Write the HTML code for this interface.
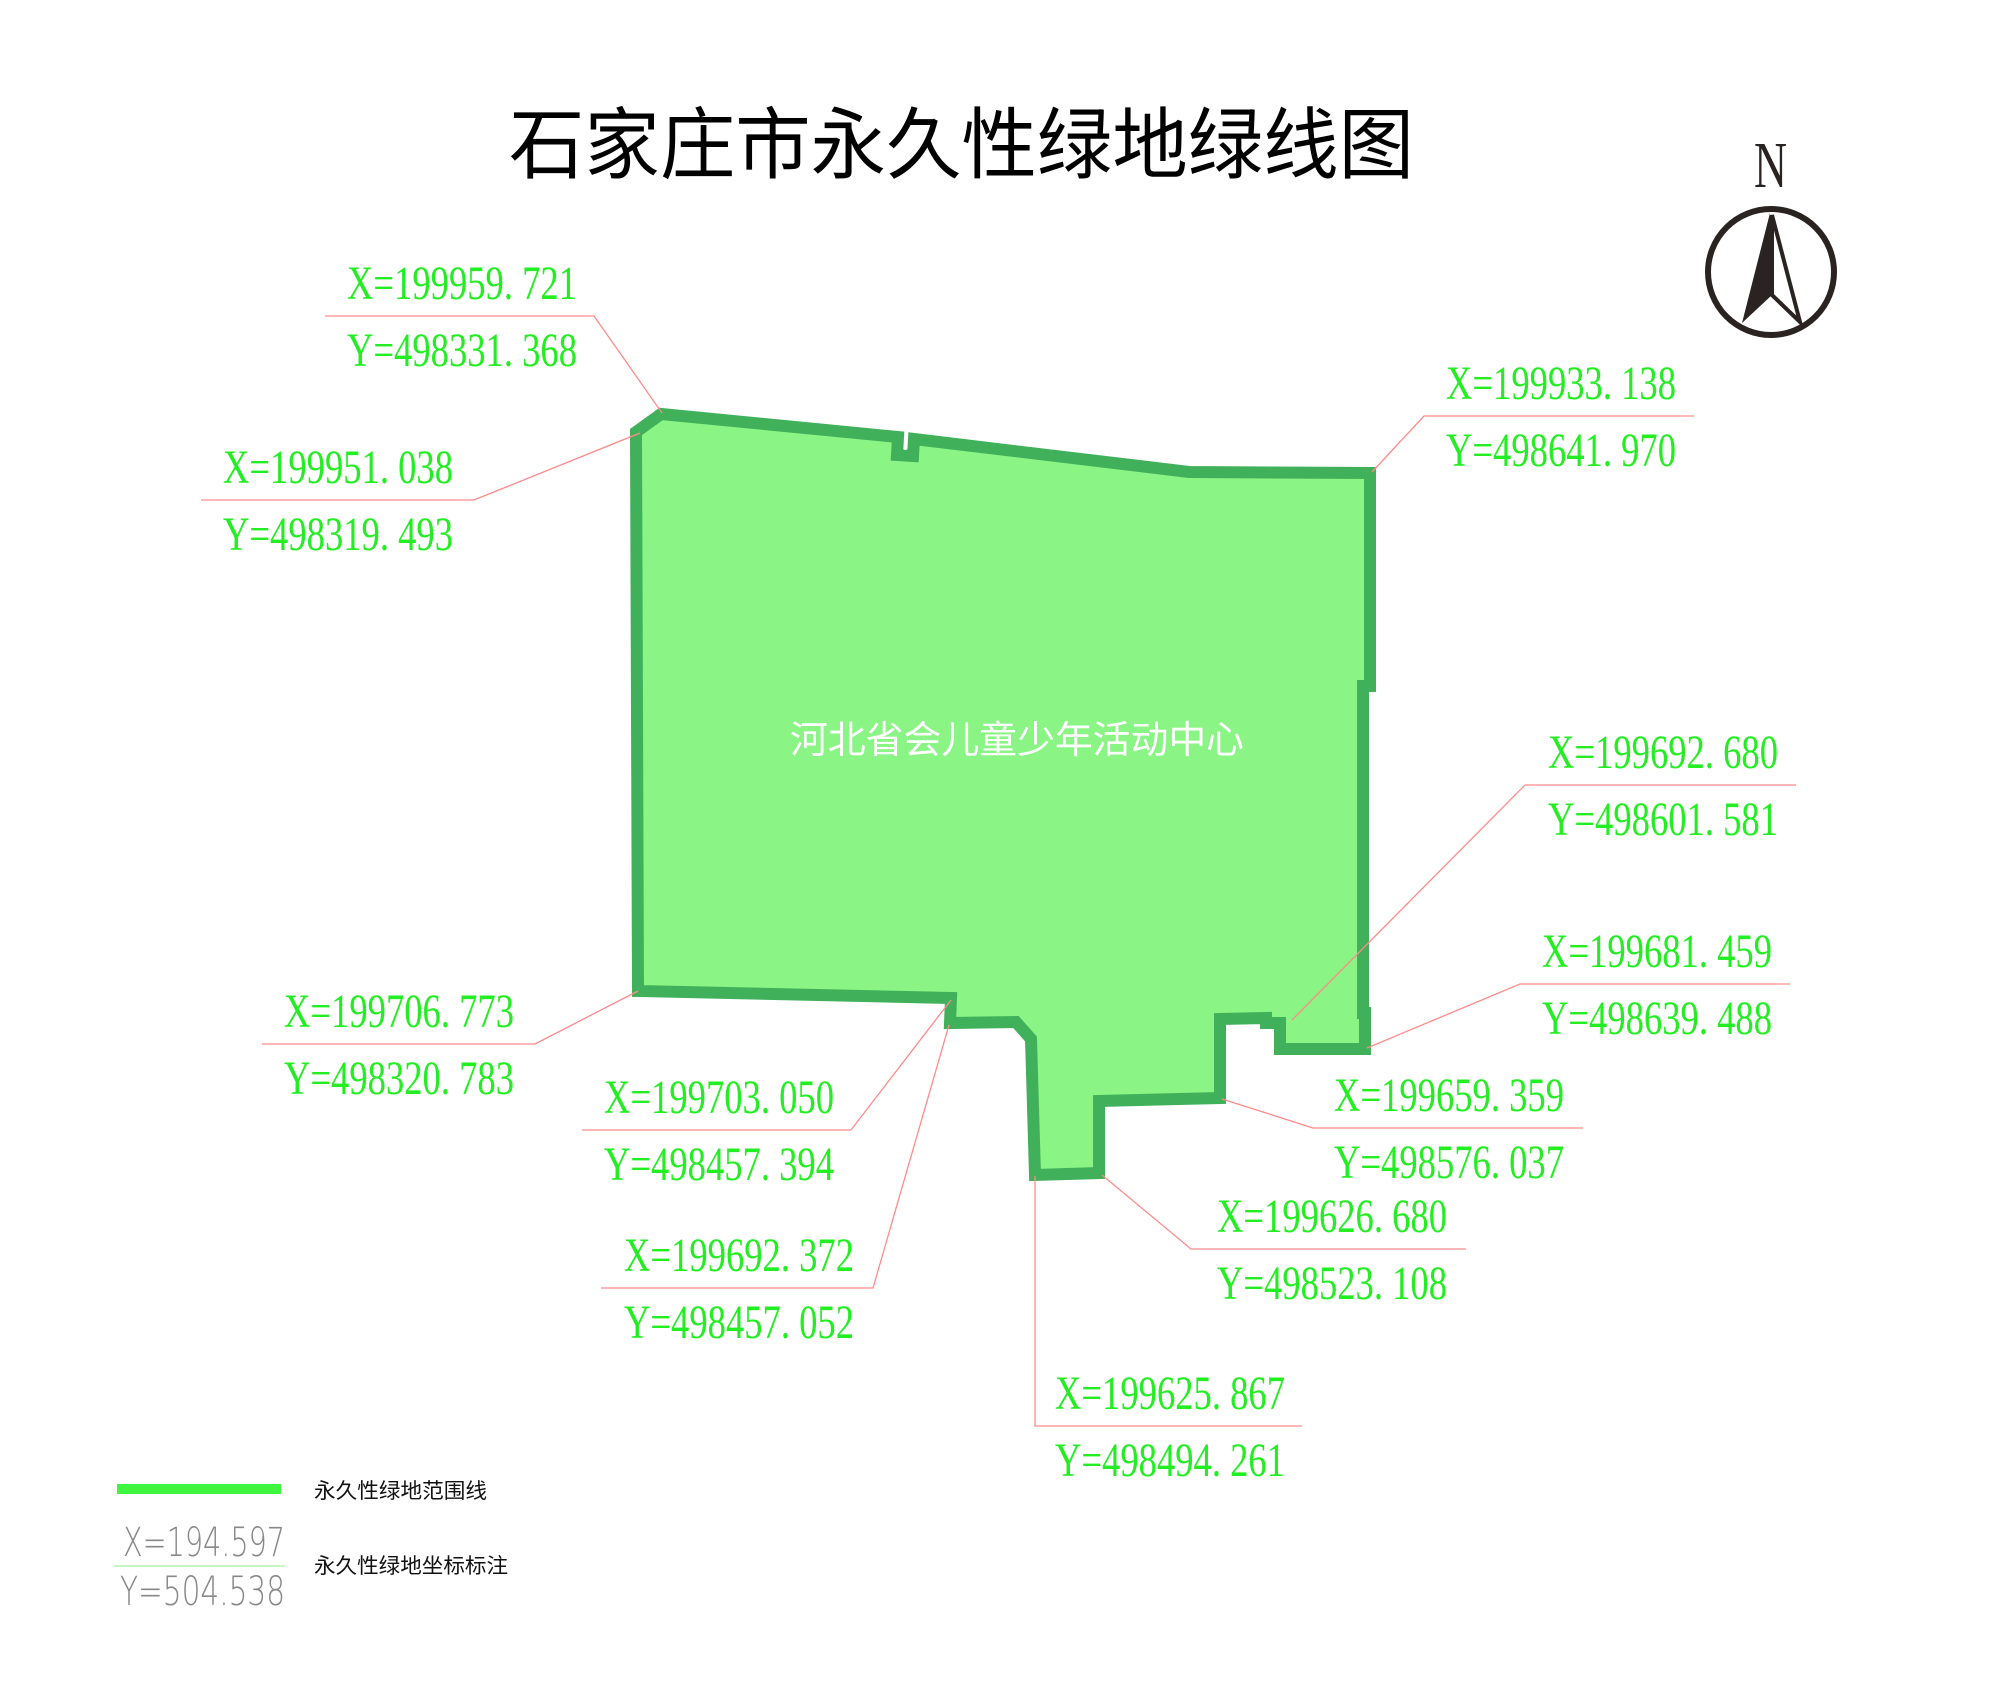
<!DOCTYPE html>
<html><head><meta charset="utf-8"><style>
html,body{margin:0;padding:0;background:#fff;}
svg{display:block;}
</style></head><body>
<svg width="2000" height="1692" viewBox="0 0 2000 1692" xmlns="http://www.w3.org/2000/svg">
<rect width="2000" height="1692" fill="#fff"/>
<text x="509" y="172" textLength="905" lengthAdjust="spacingAndGlyphs" font-family="Liberation Sans, Noto Sans CJK SC, sans-serif" font-size="78" fill="#000">石家庄市永久性绿地绿线图</text>

<polygon fill="#8af585" stroke="#41b05a" stroke-width="12" stroke-linejoin="miter"
points="661,414 636,432 638,991 951,998 950,1023 1016,1022 1031,1039 1035,1175 1099,1173 1099,1101 1220,1098 1220,1019 1266,1018 1266,1023 1280,1023 1280,1049 1365,1049 1365,1013 1363,1013 1363,686 1370,686 1370,473 1189,472 914,439 913,456 897,455 898,437"/>
<line x1="906" y1="437" x2="905" y2="450" stroke="#fff" stroke-width="1.5"/>
<text x="790" y="753" textLength="454" lengthAdjust="spacingAndGlyphs" font-family="Liberation Sans, Noto Sans CJK SC, sans-serif" font-size="38" fill="#fff">河北省会儿童少年活动中心</text>

<g stroke="#ff8a8a" stroke-width="1.3" fill="none">
<polyline points="325,316 594,316 662,413"/>
<polyline points="201,500 474,500 640,433"/>
<polyline points="1694,416 1424,416 1372,472"/>
<polyline points="1796,785 1525,785 1292,1020"/>
<polyline points="1790,984 1520,984 1367,1048"/>
<polyline points="1583,1128 1313,1128 1222,1099"/>
<polyline points="1466,1249 1191,1249 1102,1175"/>
<polyline points="1302,1426 1035,1426 1035,1176"/>
<polyline points="601,1288 873,1288 949,1025"/>
<polyline points="582,1130 851,1130 951,1000"/>
<polyline points="262,1044 535,1044 638,991"/>
</g>

<g font-family="Liberation Serif, serif" font-size="48" fill="#22ee22">
<text x="347" y="299" textLength="230" lengthAdjust="spacingAndGlyphs">X=199959. 721</text>
<text x="347" y="366" textLength="230" lengthAdjust="spacingAndGlyphs">Y=498331. 368</text>
<text x="223" y="483" textLength="230" lengthAdjust="spacingAndGlyphs">X=199951. 038</text>
<text x="223" y="550" textLength="230" lengthAdjust="spacingAndGlyphs">Y=498319. 493</text>
<text x="1446" y="399" textLength="230" lengthAdjust="spacingAndGlyphs">X=199933. 138</text>
<text x="1446" y="466" textLength="230" lengthAdjust="spacingAndGlyphs">Y=498641. 970</text>
<text x="1548" y="768" textLength="230" lengthAdjust="spacingAndGlyphs">X=199692. 680</text>
<text x="1548" y="835" textLength="230" lengthAdjust="spacingAndGlyphs">Y=498601. 581</text>
<text x="1542" y="967" textLength="230" lengthAdjust="spacingAndGlyphs">X=199681. 459</text>
<text x="1542" y="1034" textLength="230" lengthAdjust="spacingAndGlyphs">Y=498639. 488</text>
<text x="1334" y="1111" textLength="230" lengthAdjust="spacingAndGlyphs">X=199659. 359</text>
<text x="1334" y="1178" textLength="230" lengthAdjust="spacingAndGlyphs">Y=498576. 037</text>
<text x="1217" y="1232" textLength="230" lengthAdjust="spacingAndGlyphs">X=199626. 680</text>
<text x="1217" y="1299" textLength="230" lengthAdjust="spacingAndGlyphs">Y=498523. 108</text>
<text x="1055" y="1409" textLength="230" lengthAdjust="spacingAndGlyphs">X=199625. 867</text>
<text x="1055" y="1476" textLength="230" lengthAdjust="spacingAndGlyphs">Y=498494. 261</text>
<text x="624" y="1271" textLength="230" lengthAdjust="spacingAndGlyphs">X=199692. 372</text>
<text x="624" y="1338" textLength="230" lengthAdjust="spacingAndGlyphs">Y=498457. 052</text>
<text x="604" y="1113" textLength="230" lengthAdjust="spacingAndGlyphs">X=199703. 050</text>
<text x="604" y="1180" textLength="230" lengthAdjust="spacingAndGlyphs">Y=498457. 394</text>
<text x="284" y="1027" textLength="230" lengthAdjust="spacingAndGlyphs">X=199706. 773</text>
<text x="284" y="1094" textLength="230" lengthAdjust="spacingAndGlyphs">Y=498320. 783</text>
</g>

<text x="1754" y="187" textLength="33" lengthAdjust="spacingAndGlyphs" font-family="Liberation Serif, serif" font-size="66" fill="#2b2222">N</text>
<circle cx="1771" cy="272" r="63" fill="none" stroke="#2b2222" stroke-width="6"/>
<polygon points="1770,213 1742,323 1772,295" fill="#2b2222"/>
<polygon points="1772,215 1800,322 1772,295" fill="none" stroke="#2b2222" stroke-width="4" stroke-linejoin="miter"/>

<rect x="117" y="1484" width="164" height="10" fill="#40f540"/>
<text x="314" y="1498" textLength="173" lengthAdjust="spacingAndGlyphs" font-family="Liberation Sans, Noto Sans CJK SC, sans-serif" font-size="21" fill="#111">永久性绿地范围线</text>
<text x="123" y="1556" textLength="162" lengthAdjust="spacingAndGlyphs" font-family="DejaVu Sans, sans-serif" font-weight="200" font-size="40" fill="#888">X=194.597</text>
<line x1="114" y1="1566" x2="285" y2="1566" stroke="#9ef09e" stroke-width="1.3"/>
<text x="120" y="1605" textLength="165" lengthAdjust="spacingAndGlyphs" font-family="DejaVu Sans, sans-serif" font-weight="200" font-size="40" fill="#888">Y=504.538</text>
<text x="314" y="1573" textLength="194" lengthAdjust="spacingAndGlyphs" font-family="Liberation Sans, Noto Sans CJK SC, sans-serif" font-size="21" fill="#111">永久性绿地坐标标注</text>
</svg>
</body></html>
